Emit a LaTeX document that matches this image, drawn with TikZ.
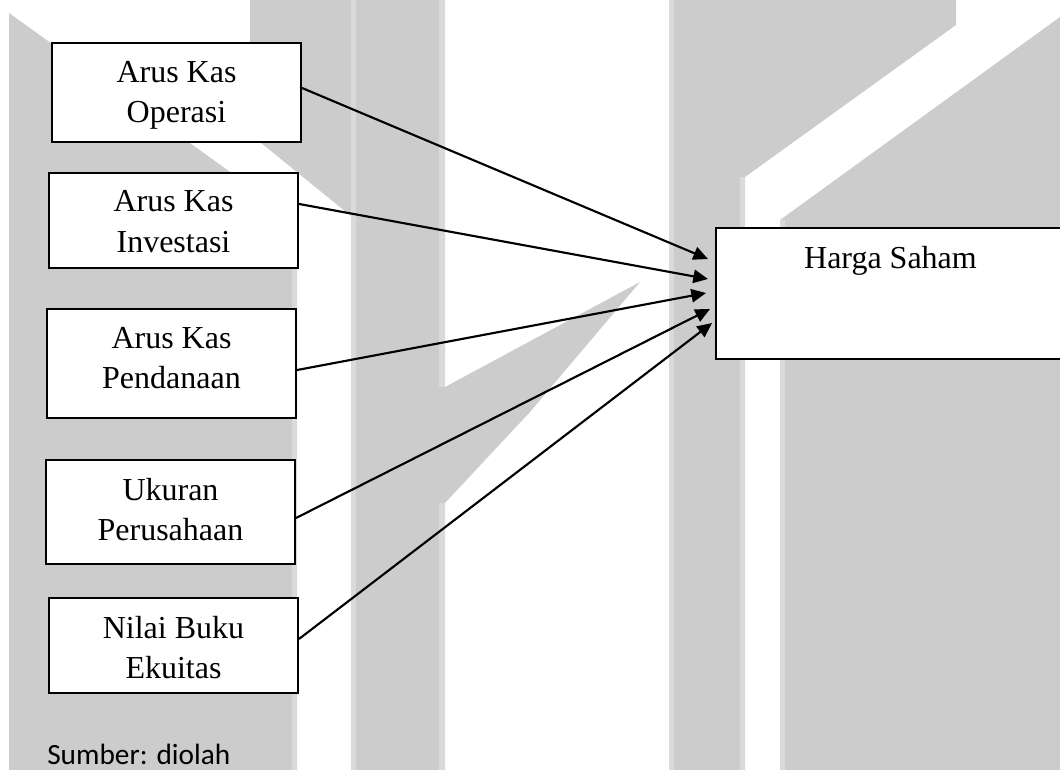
\documentclass[tikz,border=0pt]{standalone}
\usepackage{fontspec}
\setmainfont{Liberation Serif}
\newfontfamily\srcfont{Carlito}
\usetikzlibrary{arrows.meta}
\definecolor{wm}{HTML}{CCCCCC}
\definecolor{wml}{HTML}{DADADA}
\begin{document}
\begin{tikzpicture}[x=0.75pt,y=-0.75pt,
  box/.style={draw, line width=1.5pt, fill=white, align=center, inner sep=0pt,
    minimum width=186.75pt, text height=50pt, font=\fontsize{24}{30}\selectfont},
  arr/.style={line width=1.6pt, -{Triangle[length=11pt,width=10pt]}},
  strip/.style={fill=wml}]
\useasboundingbox (0,0) rectangle (1060,770);
\clip (0,0) rectangle (1060,770);
% watermark
\fill[wm] (9,13) -- (297,220) -- (297,770) -- (9,770) -- cycle;
\fill[wm] (250,0) -- (445,0) -- (445,387) -- (640,282) -- (530,412) -- (445,503)
  -- (445,770) -- (351,770) -- (351,216) -- (250,134) -- cycle;
\fill[wm] (669,0) -- (956,0) -- (956,25) -- (745,177) -- (745,770) -- (669,770) -- cycle;
\fill[wm] (1060,17) -- (1060,770) -- (780,770) -- (780,220) -- cycle;
\fill[strip] (292,220) rectangle (297,770);
\fill[strip] (351,0) rectangle (356,770);
\fill[strip] (439,0) rectangle (445,387);
\fill[strip] (439,503) rectangle (445,770);
\fill[strip] (669,0) rectangle (674,770);
\fill[strip] (740,177) rectangle (745,770);
\fill[strip] (780,220) rectangle (785,770);
% boxes
\node[box, minimum height=74.25pt, text depth=4.25pt] (b1) at (176.5,92.5) {Arus Kas\\Operasi};
\node[box, minimum height=71.25pt, text depth=2.75pt] (b2) at (173.5,220.5) {Arus Kas\\Investasi};
\node[box, minimum height=81.75pt, text depth=13.25pt] (b3) at (171.5,363.5) {Arus Kas\\Pendanaan};
\node[box, minimum height=78pt, text depth=8pt] (b4) at (170.5,512) {Ukuran\\Perusahaan};
\node[box, minimum height=71.25pt, text depth=1.25pt] (b5) at (173.5,645.5) {Nilai Buku\\Ekuitas};
\node[draw, line width=1.5pt, fill=white, minimum width=273pt, minimum height=98.25pt] (hs) at (898,293.5) {};
\node[anchor=base, font=\fontsize{24}{30}\selectfont] (hst) at (890.5,268) {Harga Saham};
% arrow ends
\coordinate (t1) at (708,259);
\coordinate (t2) at (708,279);
\coordinate (t3) at (706,293);
\coordinate (t4) at (710,309);
\coordinate (t5) at (712,323);
\draw[arr] ([yshift=3.4pt]b1.east) -- (t1);
\draw[arr] ([yshift=12.4pt]b2.east) -- (t2);
\draw[arr] ([yshift=-4.9pt]b3.east) -- (t3);
\draw[arr] ([yshift=-4.5pt]b4.east) -- (t4);
\draw[arr] ([yshift=4.9pt]b5.east) -- (t5);
\node[anchor=base west, inner sep=0pt, font=\srcfont\fontsize{22}{26}\selectfont] (src) at (47,764) {Sumber: diolah};
\end{tikzpicture}
\end{document}
